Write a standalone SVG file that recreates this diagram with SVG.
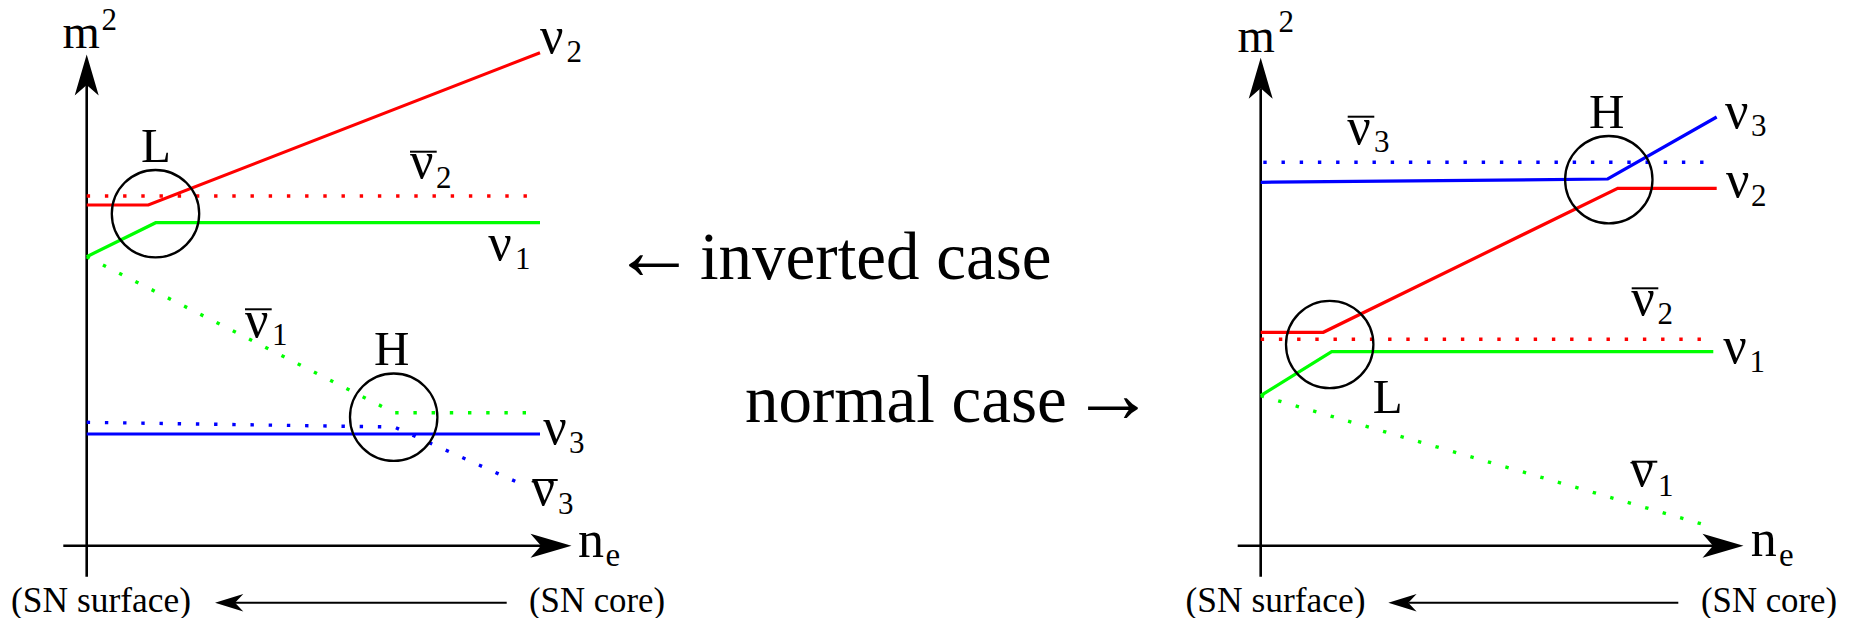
<svg xmlns="http://www.w3.org/2000/svg" width="1849" height="618" viewBox="0 0 1849 618">
  <style>
    .t { font-family: "Liberation Serif", "DejaVu Serif", serif; fill: #000; }
    .big { font-size: 49px; }
    .nu { font-size: 52px; }
    .sub { font-size: 31px; }
    .cap { font-size: 67px; }
    .side { font-size: 35px; }
    .axis { stroke: #000; stroke-width: 2.6; fill: none; }
    .dir { stroke: #000; stroke-width: 2; fill: none; }
    .ring { stroke: #000; stroke-width: 2.3; fill: none; }
    .bar { stroke: #000; stroke-width: 2; }
    .solid { stroke-width: 3.2; fill: none; stroke-linejoin: miter; }
    .dot { stroke-width: 3.4; fill: none; stroke-dasharray: 3.4 14.8; stroke-linecap: butt; }
    .red { stroke: #ff0000; }
    .green { stroke: #00ff00; }
    .blue { stroke: #0000ff; }
  </style>
  <defs>
    <marker id="axisHead" markerUnits="userSpaceOnUse" viewBox="-11 -13 42 26" refX="0" refY="0" markerWidth="42" markerHeight="26" orient="auto" overflow="visible">
      <path d="M30.5,0 L-10.5,-12 L0,0 L-10.5,12 Z" fill="#000"/>
    </marker>
    <marker id="dirHead" markerUnits="userSpaceOnUse" viewBox="-9 -10 30 20" refX="0" refY="0" markerWidth="30" markerHeight="20" orient="auto" overflow="visible">
      <path d="M20,0 L-8.3,-8.7 L0,0 L-8.3,8.7 Z" fill="#000"/>
    </marker>
  </defs>
  <rect width="1849" height="618" fill="#fff"/>

  <!-- inverted hierarchy panel -->
  <g id="inverted-panel">
    <g id="inv-axes">
      <line class="axis" x1="86.7" y1="576.7" x2="86.7" y2="85" marker-end="url(#axisHead)"/>
      <line class="axis" x1="63.3" y1="545.7" x2="541" y2="545.7" marker-end="url(#axisHead)"/>
      <text class="t" x="62.5" y="48.3" font-size="48">m</text>
      <text class="t sub" x="101.5" y="30">2</text>
      <text class="t" x="578" y="556.7" font-size="52">n</text>
      <text class="t" x="605.5" y="565.7" font-size="33">e</text>
    </g>
    <g id="inv-levels">
      <path class="solid red" d="M86.7,205 L148.3,205 L540,52.7"/>
      <path class="dot red" d="M86.7,196 H541"/>
      <path class="solid green" d="M86.7,256.7 L155.7,222.7 H540"/>
      <path class="dot green" d="M86.7,256.7 L394.3,412.7 H540"/>
      <path class="solid blue" d="M86.7,434 H540"/>
      <path class="dot blue" d="M86.7,422.3 L394.3,427 L527,486.6"/>
    </g>
    <g id="inv-L">
      <circle class="ring" cx="155.5" cy="213.7" r="43.7"/>
      <text class="t big" x="141" y="162.3">L</text>
    </g>
    <g id="inv-H">
      <circle class="ring" cx="393.7" cy="417.2" r="43.7"/>
      <text class="t big" x="374" y="365">H</text>
    </g>
    <g id="inv-labels">
      <text class="t nu" x="540" y="52.7">ν</text>
      <text class="t sub" x="566.5" y="61.7">2</text>

      <line class="bar" x1="410" y1="151.7" x2="436.7" y2="151.7"/>
      <text class="t nu" x="410" y="178.3">ν</text>
      <text class="t sub" x="436" y="187.7">2</text>

      <text class="t nu" x="488.3" y="260">ν</text>
      <text class="t sub" x="515" y="269.3">1</text>

      <line class="bar" x1="245" y1="309.3" x2="271.7" y2="309.3"/>
      <text class="t nu" x="245" y="336.7">ν</text>
      <text class="t sub" x="272" y="345">1</text>

      <text class="t nu" x="543.3" y="444">ν</text>
      <text class="t sub" x="569" y="453">3</text>

      <line class="bar" x1="532.3" y1="480" x2="557.7" y2="480"/>
      <text class="t nu" x="531.6" y="505">ν</text>
      <text class="t sub" x="558" y="514">3</text>
    </g>
    <g id="inv-direction">
      <line class="dir" x1="506.7" y1="602.7" x2="235" y2="602.7" marker-end="url(#dirHead)"/>
      <text class="t side" x="11" y="611.7" textLength="180" lengthAdjust="spacingAndGlyphs">(SN surface)</text>
      <text class="t side" x="529" y="611.7" textLength="136" lengthAdjust="spacingAndGlyphs">(SN core)</text>
    </g>
  </g>

  <!-- captions between the panels -->
  <g id="captions">
    <text class="t cap" y="279"><tspan x="612" font-size="84">←</tspan><tspan x="700">inverted case</tspan></text>
    <text class="t cap" y="421.7"><tspan x="745">normal case</tspan><tspan x="1071" font-size="84">→</tspan></text>
  </g>

  <!-- normal hierarchy panel -->
  <g id="normal-panel">
    <g id="norm-axes">
      <line class="axis" x1="1260.7" y1="576.7" x2="1260.7" y2="88.3" marker-end="url(#axisHead)"/>
      <line class="axis" x1="1237.7" y1="545.7" x2="1713" y2="545.7" marker-end="url(#axisHead)"/>
      <text class="t" x="1237.5" y="51.7" font-size="48">m</text>
      <text class="t sub" x="1278.5" y="32.3">2</text>
      <text class="t" x="1750.7" y="555.8" font-size="52">n</text>
      <text class="t" x="1779" y="565.6" font-size="33">e</text>
    </g>
    <g id="norm-levels">
      <path class="solid blue" d="M1260.7,182.3 L1607.7,179 L1716.7,117"/>
      <path class="dot blue" d="M1263.3,162.3 H1718"/>
      <path class="solid red" d="M1260.7,332.3 H1323.3 L1617.7,188.3 H1716.7"/>
      <path class="dot red" d="M1260.7,339.3 H1712"/>
      <path class="solid green" d="M1260.7,395.7 L1331.7,351.7 H1713.3"/>
      <path class="dot green" d="M1260.7,395.7 L1710,526.4"/>
    </g>
    <g id="norm-H">
      <circle class="ring" cx="1608.8" cy="179.7" r="43.7"/>
      <text class="t big" x="1589" y="128.3">H</text>
    </g>
    <g id="norm-L">
      <circle class="ring" cx="1329.7" cy="344.5" r="43.7"/>
      <text class="t big" x="1372.7" y="413.3">L</text>
    </g>
    <g id="norm-labels">
      <line class="bar" x1="1347.7" y1="116.7" x2="1374.3" y2="116.7"/>
      <text class="t nu" x="1347.3" y="144">ν</text>
      <text class="t sub" x="1374" y="152.3">3</text>

      <text class="t nu" x="1725" y="127.5">ν</text>
      <text class="t sub" x="1751" y="136">3</text>

      <text class="t nu" x="1726" y="197">ν</text>
      <text class="t sub" x="1751" y="206">2</text>

      <line class="bar" x1="1631.7" y1="288.3" x2="1658.3" y2="288.3"/>
      <text class="t nu" x="1631.3" y="314.5">ν</text>
      <text class="t sub" x="1657.5" y="324">2</text>

      <text class="t nu" x="1723.3" y="362.6">ν</text>
      <text class="t sub" x="1749.5" y="372">1</text>

      <line class="bar" x1="1631.7" y1="461.7" x2="1657.3" y2="461.7"/>
      <text class="t nu" x="1630.3" y="486">ν</text>
      <text class="t sub" x="1658" y="495.5">1</text>
    </g>
    <g id="norm-direction">
      <line class="dir" x1="1678.3" y1="602.7" x2="1408.3" y2="602.7" marker-end="url(#dirHead)"/>
      <text class="t side" x="1185.5" y="611.7" textLength="180" lengthAdjust="spacingAndGlyphs">(SN surface)</text>
      <text class="t side" x="1701" y="611.7" textLength="136" lengthAdjust="spacingAndGlyphs">(SN core)</text>
    </g>
  </g>
</svg>
